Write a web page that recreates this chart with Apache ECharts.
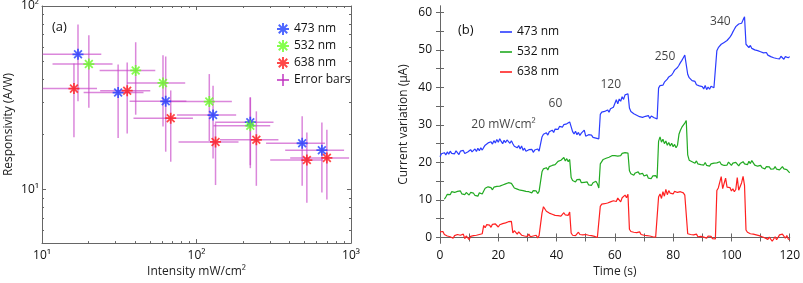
<!DOCTYPE html>
<html><head><meta charset="utf-8">
<script src="https://cdn.jsdelivr.net/npm/echarts@6/dist/echarts.min.js"></script>
<style>html,body{margin:0;padding:0;background:#fff}#c{width:803px;height:283px}</style>
</head><body><div id="c"></div><script>
// ---------- Panel (a): responsivity vs intensity ----------
const intensity473 = [17.1, 31.1, 63.2, 128, 223, 483, 648];
const resp473      = [54.6, 33.8, 30.3, 25.5, 23.3, 17.9, 16.4];
const intensity532 = [20.1, 40.4, 60.7, 121, 223];
const resp532      = [48.3, 44.6, 38.1, 30.2, 22.3];
const intensity638 = [16.1, 35.6, 68.1, 132.8, 244, 518, 698];
const resp638      = [35.5, 34.6, 24.5, 18.2, 18.7, 14.5, 14.9];
// error bar ranges: [xLow, xHigh, yLow, yHigh]
const err473 = [[10.1,24.2,30.3,79.3],[18.6,45.4,19.1,48.1],[36.9,86,16.1,53.1],[74.7,180.6,14.8,36.8],[132,315,13.6,31.8],[282,680,10.5,25.1],[375,902,9.64,23.2]];
const err532 = [[11.7,28.6,27.9,69.4],[23.6,54.1,25.6,63.5],[35.5,84.5,22.1,53.9],[61.2,169.4,18.4,42.6],[128.8,300,13.1,31.8]];
const err638 = [[10.1,22.7,19.3,48.7],[23.8,50.2,20.2,49.3],[39.1,94.8,14.2,34.7],[76.5,187,10.6,23.0],[142,339,10.5,26.7],[300,657,8.5,20.5],[404,972,8.85,21.2]];

// ---------- Panel (b): current variation vs time (0.5 s sampling) ----------
const timeStep = 0.5;
const current473 = [
21.5,22.3,21.8,22.6,22.0,22.8,22.2,23.0,22.4,22.9,
22.3,23.1,22.6,22.1,23.0,22.5,23.2,22.4,21.9,22.8,
22.6,23.4,22.8,22.3,23.6,22.9,23.8,23.1,23.9,23.3,
24.0,24.6,24.1,25.2,24.7,25.5,24.9,25.8,25.2,26.1,
25.4,26.3,25.6,25.0,25.9,25.3,26.0,25.5,25.1,25.8,
25.0,24.3,24.8,23.9,24.5,23.6,24.4,23.2,23.8,23.0,
22.6,23.4,22.9,23.5,22.7,23.3,22.8,23.6,23.0,23.4,
26.8,27.5,27.0,27.9,27.3,28.2,27.8,28.6,28.0,28.9,
29.3,28.8,29.6,29.9,29.4,30.1,29.6,30.3,29.9,30.8,
31.3,28.2,27.6,28.3,27.4,28.0,27.2,27.8,27.5,28.6,
27.0,26.6,27.4,26.9,27.3,26.7,27.1,26.5,26.9,26.3,
32.8,33.4,32.9,33.6,33.1,34.0,33.4,34.3,33.8,34.7,
35.2,36.7,35.6,36.9,36.3,37.5,36.8,38.0,37.6,38.3,
34.5,33.6,33.9,33.0,33.4,32.6,32.9,32.2,32.7,32.0,
31.6,32.3,31.8,32.5,31.7,32.4,32.9,31.9,32.3,31.6,
39.8,40.5,41.0,40.6,41.4,41.9,42.2,42.8,42.5,43.3,
43.9,44.6,44.2,45.3,45.9,46.6,47.2,47.9,48.6,48.2,
43.5,42.6,42.1,41.8,41.3,41.6,40.7,41.0,40.4,40.8,
40.2,39.6,40.5,39.4,40.1,39.5,40.3,40.7,39.9,40.4,
49.8,50.6,50.9,51.5,51.2,52.0,51.8,52.5,53.0,53.4,
54.0,54.8,55.5,56.2,56.0,56.9,57.4,57.1,58.0,58.8,
51.5,51.0,50.6,51.2,50.4,50.8,50.0,50.5,49.8,50.2,
49.5,49.9,49.2,48.7,49.3,48.6,48.9,48.2,48.6,47.9,
48.4,47.7,48.1,47.6,48.3,47.8,47.5,48.2,48.7,47.9,
48.2];
const current532 = [
null,null,null,10.2,10.8,11.5,11.9,11.4,12.2,11.7,
12.0,11.5,12.3,11.8,12.4,11.6,12.1,11.4,12.0,11.7,
11.3,12.0,11.5,11.8,11.2,11.6,11.0,11.9,12.2,11.6,
12.4,13.1,12.6,13.5,13.0,13.3,12.7,13.4,12.9,13.6,
13.1,13.7,13.3,14.0,13.6,14.3,13.9,14.6,14.1,14.4,
13.8,13.2,13.6,12.9,13.4,12.6,13.1,12.5,13.0,12.3,
12.8,12.2,12.6,11.9,12.5,12.0,12.4,11.7,12.3,11.8,
17.5,18.3,17.8,18.6,18.0,18.9,18.4,19.2,18.7,19.4,
19.6,20.3,19.8,20.6,20.1,21.3,20.4,21.0,20.2,20.8,
16.0,15.2,15.6,14.8,15.4,14.9,15.5,14.6,15.1,14.7,
14.2,14.8,14.0,14.5,13.9,14.6,14.1,15.0,14.3,13.2,
19.6,20.2,20.8,20.4,21.1,20.7,21.4,21.0,21.8,21.3,
21.8,22.3,21.7,22.2,21.8,22.4,22.0,22.6,23.1,22.5,
17.8,17.0,17.4,16.6,17.2,16.8,17.5,16.9,16.5,17.1,
16.4,16.0,16.7,15.8,16.3,15.7,16.4,15.9,16.5,15.8,
25.6,26.8,25.4,26.2,25.0,25.7,24.6,25.3,24.4,25.1,
24.2,24.8,23.9,24.6,27.5,28.6,29.4,28.9,30.5,31.2,
22.0,20.6,21.1,20.2,20.7,19.8,20.4,19.6,20.1,19.4,
19.9,19.3,20.0,19.2,19.7,19.0,19.6,19.1,19.8,19.3,
19.9,19.4,20.2,19.5,19.8,19.2,19.7,19.3,20.1,19.6,
19.2,19.8,19.4,20.0,19.5,19.1,19.7,19.3,20.2,19.6,
19.9,19.4,20.3,19.7,20.5,19.9,19.3,19.8,19.0,18.6,
19.2,18.6,19.1,18.3,18.9,18.4,18.8,18.2,18.7,18.3,
18.9,18.2,18.6,18.0,18.5,18.9,18.3,18.7,18.1,18.5,
17.2];
const current638 = [
1.5,1.0,1.6,0.8,1.2,0.4,0.9,0.2,0.7,-0.2,
0.5,0.1,0.8,1.2,0.6,0.2,0.9,-0.3,0.4,0.0,
-0.6,0.3,-0.2,0.5,0.0,0.6,0.2,0.8,0.4,1.0,
3.2,2.6,3.4,2.9,3.3,2.7,3.5,3.0,3.6,3.1,
2.8,3.4,3.0,3.7,3.2,3.9,3.5,4.2,3.7,4.3,
1.2,1.8,1.3,0.9,1.5,1.0,0.6,1.1,0.4,0.8,
0.3,0.9,0.2,-0.2,0.4,0.0,0.6,-0.1,0.5,0.9,
6.5,8.2,7.6,7.0,7.4,6.5,6.9,6.2,6.7,5.9,
6.4,5.8,6.3,5.7,6.1,6.6,6.0,6.4,5.9,6.8,
1.2,0.6,1.1,0.5,0.9,1.4,0.8,0.3,0.7,0.2,
0.8,1.2,0.6,0.1,0.5,0.9,0.3,0.7,0.0,0.4,
8.3,8.9,8.5,9.0,8.6,9.2,8.8,9.5,9.1,9.8,
10.2,9.6,10.5,10.1,9.5,10.6,10.9,11.3,10.6,11.5,
2.2,1.6,2.0,1.4,1.8,1.3,1.0,1.5,0.8,1.2,
0.6,1.0,0.5,0.9,0.4,0.8,0.2,0.6,0.1,-0.1,
10.8,11.6,10.4,12.2,11.0,12.8,11.4,12.5,11.8,12.1,
11.6,12.3,11.8,12.0,11.5,12.2,11.7,11.9,11.3,11.0,
1.0,0.5,0.8,0.3,0.7,0.4,0.9,0.2,0.6,0.3,
0.7,0.1,0.5,-0.2,0.4,0.0,0.3,-0.3,0.2,-0.4,
12.5,13.2,12.8,16.2,13.0,12.6,15.8,13.4,12.9,13.3,
12.4,13.0,12.2,12.8,16.0,12.6,13.1,14.6,16.3,13.8,
2.0,1.4,1.7,1.0,1.5,0.9,1.3,0.7,1.1,0.5,
0.9,0.2,0.6,-0.1,0.3,-0.5,0.1,-0.3,-1.0,-0.4,
0.2,-0.6,0.0,0.7,0.3,0.9,0.4,-0.2,0.5,-0.4,
-0.6];
// intensity annotations: [time, value, text]
const annoTime  = [21.8, 39.6, 58.6, 77.2, 96.2];
const annoValue = [30.1, 35.6, 40.8, 48.3, 57.6];
const annoText  = ['20 mW/cm²', '60', '120', '250', '340'];
const yTicksB = [0, 10, 20, 30, 40, 50, 60];
const yMinorB = [0, 5, 10, 15, 20, 25, 30, 35, 40, 45, 50, 55, 60];

// ---------- styling ----------
const FF = "'Open Sans', 'Noto Sans', sans-serif";
const AX = '#666';
const cA = {b: '#2040ff', g: '#66ff22', r: '#ff1a1a'};
const cB = {b: '#2b3cff', g: '#22aa22', r: '#ff2020'};
const ebColor = 'rgba(200,70,200,0.65)';
const STAR = 'path://M0,42L100,42L100,58L0,58ZM42,0L58,0L58,100L42,100ZM9,20.3L20.3,9L91,79.7L79.7,91ZM79.7,9L91,20.3L20.3,91L9,79.7Z';
const PLUS = 'path://M0,44L100,44L100,56L0,56ZM44,0L56,0L56,100L44,100Z';
const sup = {0: '⁰', 1: '¹', 2: '²', 3: '³'};
function powFmt(v) {
  const l = Math.log10(v), e = Math.round(l);
  if (Math.abs(l - e) > 1e-6) return '';
  return '10' + sup[e];
}

const time = current473.map((_, i) => i * timeStep);
const pairs = (xs, ys) => xs.map((x, i) => [x, ys[i]]);
const errData = (xs, ys, err) => xs.map((x, i) => [x, ys[i]].concat(err[i]));

const logAxisBase = (extra) => Object.assign({
  type: 'log', logBase: 10, splitLine: {show: false},
  axisLine: {show: true, lineStyle: {color: AX, width: 1}},
  axisTick: {show: true, inside: true, length: 4, lineStyle: {color: AX}},
  minorTick: {show: true, splitNumber: 9, length: 2, lineStyle: {color: AX}},
  axisLabel: {formatter: powFmt, color: '#111', fontSize: 12, fontFamily: FF},
  nameTextStyle: {color: '#222', fontSize: 12, fontFamily: FF}
}, extra);

const valAxisBase = (extra) => Object.assign({
  type: 'value', splitLine: {show: false},
  axisLine: {show: true, lineStyle: {color: AX, width: 1}},
  axisTick: {show: true, inside: true, length: 4, lineStyle: {color: AX}},
  axisLabel: {color: '#111', fontSize: 12, fontFamily: FF},
  nameTextStyle: {color: '#222', fontSize: 12, fontFamily: FF}
}, extra);

function renderErr(params, api) {
  const x = api.value(0), y = api.value(1);
  const l = api.coord([api.value(2), y]);
  const r = api.coord([api.value(3), y]);
  const b = api.coord([x, api.value(4)]);
  const t = api.coord([x, api.value(5)]);
  const style = {stroke: ebColor, lineWidth: 1.5};
  return {type: 'group', children: [
    {type: 'line', shape: {x1: l[0], y1: l[1], x2: r[0], y2: r[1]}, style: style},
    {type: 'line', shape: {x1: b[0], y1: b[1], x2: t[0], y2: t[1]}, style: style}
  ]};
}

const option = {
  animation: false,
  backgroundColor: '#fff',
  textStyle: {fontFamily: FF},
  title: [
    {text: '(a)', left: 47, top: 16, textStyle: {fontSize: 13, fontWeight: 'normal', color: '#111', fontFamily: FF}},
    {text: '(b)', left: 453, top: 19, textStyle: {fontSize: 13, fontWeight: 'normal', color: '#111', fontFamily: FF}}
  ],
  grid: [
    {left: 42, top: 6, width: 309, bottom: 33},
    {left: 440, top: 6, right: 10, bottom: 33}
  ],
  xAxis: [
    logAxisBase({gridIndex: 0, min: 10, max: 1000, position: 'bottom',
      name: 'Intensity mW/cm²', nameLocation: 'middle', nameGap: 20,
      axisLabel: {formatter: powFmt, color: '#111', fontSize: 12, fontFamily: FF, margin: 6}}),
    logAxisBase({gridIndex: 0, min: 10, max: 1000, position: 'top', axisLabel: {show: false}}),
    valAxisBase({gridIndex: 1, min: 0, max: 120, interval: 10, position: 'bottom',
      name: 'Time (s)', nameLocation: 'middle', nameGap: 20,
      axisLabel: {color: '#111', fontSize: 12, fontFamily: FF, margin: 6,
        formatter: v => (v % 20 === 0 ? String(v) : '')}}),
    valAxisBase({gridIndex: 1, min: 0, max: 120, interval: 10, position: 'top', axisLabel: {show: false}})
  ],
  yAxis: [
    logAxisBase({gridIndex: 0, min: 5.12, max: 100, position: 'left',
      name: 'Responsivity (A/W)', nameLocation: 'middle', nameGap: 27,
      axisLabel: {formatter: powFmt, color: '#111', fontSize: 12, fontFamily: FF, margin: 3}}),
    logAxisBase({gridIndex: 0, min: 5.12, max: 100, position: 'right', axisLabel: {show: false}}),
    valAxisBase({gridIndex: 1, min: -1.5, max: 61.7, position: 'left',
      name: 'Current variation (μA)', nameLocation: 'middle', nameGap: 30,
      axisTick: {show: true, inside: true, length: 4, lineStyle: {color: AX}, customValues: yMinorB},
      axisLabel: {color: '#111', fontSize: 12, fontFamily: FF, margin: 8, customValues: yTicksB}}),
    valAxisBase({gridIndex: 1, min: -1.5, max: 61.7, position: 'right',
      axisTick: {show: true, inside: true, length: 4, lineStyle: {color: AX}, customValues: yMinorB},
      axisLabel: {show: false}})
  ],
  legend: [
    {left: 272, top: 18, orient: 'vertical', itemGap: 5, itemWidth: 12, itemHeight: 12,
     selectedMode: false, textStyle: {fontSize: 12, color: '#111', fontFamily: FF},
     data: [
       {name: '473 nm', icon: STAR, itemStyle: {color: cA.b}},
       {name: '532 nm', icon: STAR, itemStyle: {color: cA.g}},
       {name: '638 nm', icon: STAR, itemStyle: {color: cA.r}},
       {name: 'Error bars', icon: PLUS, itemStyle: {color: '#c030c0'}}
     ]},
    {left: 495, top: 20, orient: 'vertical', itemGap: 6, itemWidth: 12, itemHeight: 2,
     selectedMode: false, textStyle: {fontSize: 12, color: '#111', fontFamily: FF, lineHeight: 14},
     data: [
       {name: '473 nm', icon: 'rect', itemStyle: {color: cB.b}},
       {name: '532 nm', icon: 'rect', itemStyle: {color: cB.g}},
       {name: '638 nm', icon: 'rect', itemStyle: {color: cB.r}}
     ]}
  ],
  series: [
    {type: 'custom', name: 'Error bars', xAxisIndex: 0, yAxisIndex: 0, z: 1,
     renderItem: renderErr, encode: {x: 0, y: 1}, itemStyle: {color: '#c030c0'},
     data: errData(intensity473, resp473, err473)
       .concat(errData(intensity532, resp532, err532))
       .concat(errData(intensity638, resp638, err638))},
    {type: 'scatter', name: '473 nm', xAxisIndex: 0, yAxisIndex: 0, z: 3, symbol: STAR, symbolSize: 11,
     itemStyle: {color: cA.b}, data: pairs(intensity473, resp473)},
    {type: 'scatter', name: '532 nm', xAxisIndex: 0, yAxisIndex: 0, z: 3, symbol: STAR, symbolSize: 11,
     itemStyle: {color: cA.g}, data: pairs(intensity532, resp532)},
    {type: 'scatter', name: '638 nm', xAxisIndex: 0, yAxisIndex: 0, z: 3, symbol: STAR, symbolSize: 11,
     itemStyle: {color: cA.r}, data: pairs(intensity638, resp638)},
    {type: 'line', name: '473 nm', xAxisIndex: 2, yAxisIndex: 2, showSymbol: false, symbol: 'none',
     lineStyle: {color: cB.b, width: 1.2}, itemStyle: {color: cB.b}, data: pairs(time, current473)},
    {type: 'line', name: '532 nm', xAxisIndex: 2, yAxisIndex: 2, showSymbol: false, symbol: 'none',
     lineStyle: {color: cB.g, width: 1.2}, itemStyle: {color: cB.g}, data: pairs(time, current532)},
    {type: 'line', name: '638 nm', xAxisIndex: 2, yAxisIndex: 2, showSymbol: false, symbol: 'none',
     lineStyle: {color: cB.r, width: 1.2}, itemStyle: {color: cB.r}, data: pairs(time, current638)},
    {type: 'scatter', name: 'annotations', xAxisIndex: 2, yAxisIndex: 2, symbolSize: 0, silent: true,
     label: {show: true, position: 'inside', formatter: '{b}', color: '#111', fontSize: 12, fontFamily: FF},
     data: annoTime.map((t, i) => ({name: annoText[i], value: [t, annoValue[i]]}))}
  ]
};
const chart = echarts.init(document.getElementById('c'), null, {renderer: 'canvas'});
chart.setOption(option);
</script></body></html>
